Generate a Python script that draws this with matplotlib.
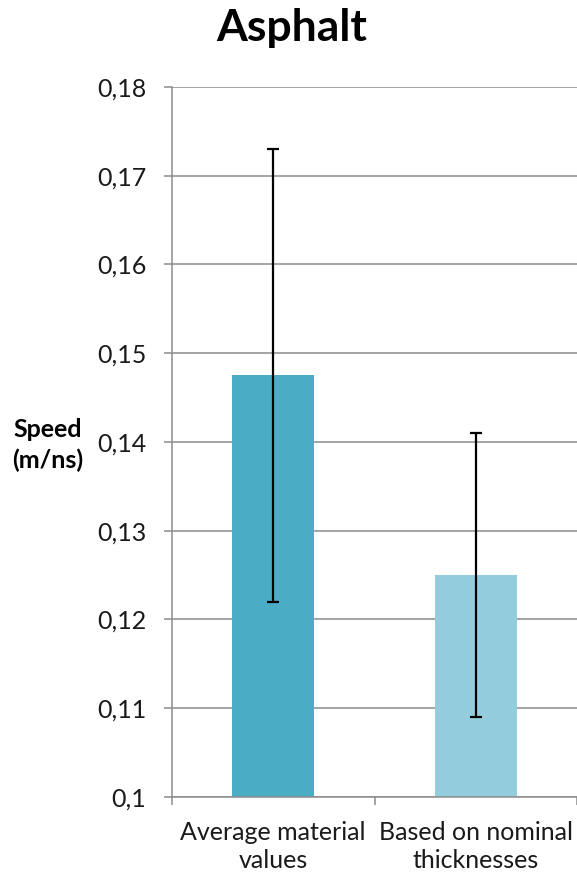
import matplotlib
matplotlib.use("Agg")
import matplotlib.pyplot as plt
from matplotlib.ticker import FuncFormatter

categories = ["Average material\nvalues", "Based on nominal\nthicknesses"]
values = [0.1475, 0.125]
err_low = [0.122, 0.109]
err_high = [0.173, 0.141]
colors = ["#4BACC6", "#93CDDD"]
yticks = [0.10, 0.11, 0.12, 0.13, 0.14, 0.15, 0.16, 0.17, 0.18]

plt.rcParams['font.family'] = ['Lato', 'DejaVu Sans']

fig = plt.figure(figsize=(5.77, 8.76), dpi=100)
ax = fig.add_axes([172/577, 79/876, 405/577, 710/876])

x = [0.5, 1.5]
yerr = [[v - lo for v, lo in zip(values, err_low)], [hi - v for v, hi in zip(values, err_high)]]
ax.bar(x, values, width=0.405, color=colors, zorder=2)
ax.errorbar(x, values, yerr=yerr, fmt='none', ecolor='black', elinewidth=1.6,
            capsize=4.5, capthick=1.6, zorder=3)

ax.set_xlim(0, 2)
ax.set_ylim(0.10, 0.18)
ax.set_yticks(yticks)
ax.yaxis.set_major_formatter(FuncFormatter(lambda v, p: ("%g" % round(v, 2)).replace('.', ',')))
ax.yaxis.grid(True, color='#8c8c8c', linewidth=1.1, zorder=0)
ax.set_axisbelow(True)

ax.set_xticks([0, 1, 2])
ax.set_xticklabels([])
ax.set_xticks(x, minor=True)
ax.set_xticklabels(categories, minor=True, fontsize=18, color='#1a1a1a', linespacing=1.3)
ax.tick_params(axis='x', which='minor', length=0, pad=17)
ax.tick_params(axis='x', which='major', length=6, color='#8c8c8c', width=1.1)
ax.tick_params(axis='y', length=5.5, color='#8c8c8c', width=1.1, labelsize=18, labelcolor='#1a1a1a', pad=13)

for s in ['top', 'right']:
    ax.spines[s].set_visible(False)
for s in ['left', 'bottom']:
    ax.spines[s].set_color('#8c8c8c')
    ax.spines[s].set_linewidth(1.1)

fig.text(292/577, 1 - 28/876, "Asphalt", ha='center', va='center', fontsize=32, fontweight='bold')
fig.text(48/577, 1 - 445/876, "Speed\n(m/ns)", ha='center', va='center', fontsize=18,
         fontweight='bold', linespacing=1.35)

fig.savefig("out.png", dpi=100)
